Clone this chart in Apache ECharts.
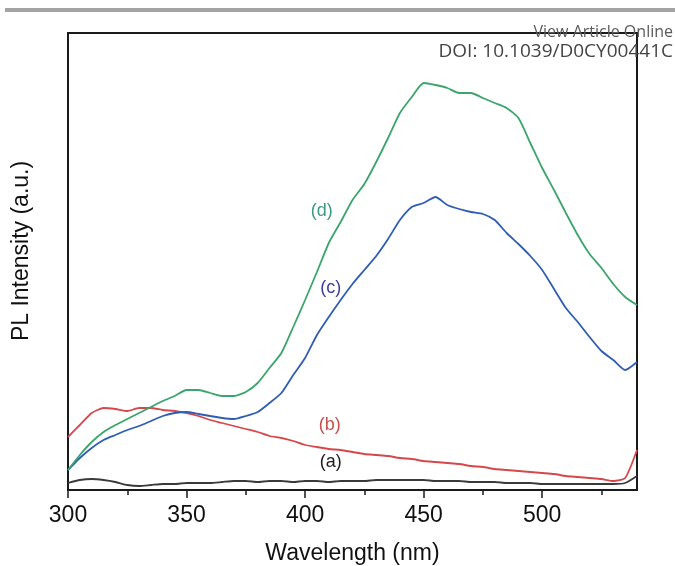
<!DOCTYPE html>
<html>
<head>
<meta charset="utf-8">
<script src="https://cdn.jsdelivr.net/npm/echarts@6/dist/echarts.min.js"></script>
<style>html,body{margin:0;padding:0;background:#fff;}#c{width:675px;height:566px;}</style>
</head>
<body>
<div id="c"></div>
<script>
// Wavelength grid (nm)
const wavelength = [300,305,310,315,320,325,330,335,340,345,350,355,360,365,370,375,380,385,390,395,400,405,410,415,420,425,430,435,440,445,450,455,460,465,470,475,480,485,490,495,500,505,510,515,520,525,530,535,540];
// PL intensity (a.u.)
const seriesA = [7,10,11,10,8,5,4,5,6,6,7,7,7,8,9,9,8,9,9,8,9,9,8,9,9,9,10,10,10,10,10,9,9,9,8,8,8,7,7,7,6,6,6,6,6,6,6,7,14];
const seriesB = [53,65,77,82,81,79,82,82,80,79,77,74,70,67,64,61,58,54,52,49,45,43,41,40,38,36,35,34,32,31,29,28,27,26,24,23,21,20,19,18,17,16,14,13,12,11,9,12,40];
const seriesC = [20,32,42,50,55,60,64,69,74,77,78,76,74,72,71,74,78,87,97,115,132,155,173,190,206,220,234,251,270,283,287,293,285,281,278,276,270,257,246,234,220,201,182,168,153,139,130,120,128];
const seriesD = [20,35,48,58,65,71,77,83,89,94,100,100,97,94,94,98,107,122,137,163,190,218,247,268,290,306,328,352,377,393,407,405,402,397,397,392,387,382,372,347,322,300,277,255,236,222,206,193,185];
const seriesNames = ['(a)','(b)','(c)','(d)'];
const labelPos = [[410.8,28],[410.4,65],[410.8,202],[407.0,279]];
const majorTicks = [300,350,400,450,500];
const minorTicks = [325,375,425,475,525];

const lineColors = ['#3a3a3a','#d6474b','#2f5db3','#3ba56b'];
const labelColors = ['#1e1e1e','#c8504f','#3d3f9c','#3b9a84'];
const allData = [seriesA, seriesB, seriesC, seriesD];
const FONT = '"Liberation Sans", Arial, sans-serif';

const series = allData.map((vals, i) => ({
  type: 'line',
  name: seriesNames[i],
  xAxisIndex: 0,
  data: wavelength.map((w, k) => [w, vals[k]]),
  showSymbol: false,
  symbol: 'none',
  smooth: 0.2,
  lineStyle: { color: lineColors[i], width: 1.8 },
  z: 2 + i,
  markPoint: {
    symbol: 'circle',
    symbolSize: 0,
    silent: true,
    animation: false,
    data: [{ coord: labelPos[i], value: seriesNames[i] }],
    label: { show: true, position: 'inside', formatter: seriesNames[i], color: labelColors[i], fontSize: 18, fontFamily: FONT }
  }
}));

const chart = echarts.init(document.getElementById('c'), null, { renderer: 'canvas' });
chart.setOption({
  animation: false,
  backgroundColor: '#ffffff',
  grid: { left: 68, right: 38, top: 33, bottom: 76, outerBoundsMode: 'none', containLabel: false, show: true, borderColor: '#1a1a1a', borderWidth: 2, backgroundColor: 'transparent' },
  xAxis: [
    {
      type: 'value', min: 300, max: 540, position: 'bottom',
      axisLine: { show: true, lineStyle: { color: '#1a1a1a', width: 2 } },
      axisTick: { show: true, inside: false, length: 8, customValues: majorTicks, lineStyle: { color: '#1a1a1a', width: 1.5 } },
      axisLabel: { show: true, customValues: majorTicks, fontSize: 23, color: '#111', margin: 14, fontFamily: FONT },
      splitLine: { show: false },
      name: 'Wavelength (nm)', nameLocation: 'middle', nameGap: 52,
      nameTextStyle: { fontSize: 23, color: '#111', fontFamily: FONT }
    },
    {
      type: 'value', min: 300, max: 540, position: 'bottom', offset: 0,
      axisLine: { show: false },
      axisTick: { show: true, inside: false, length: 5, customValues: minorTicks, lineStyle: { color: '#1a1a1a', width: 1.5 } },
      axisLabel: { show: false },
      splitLine: { show: false }
    }
  ],
  yAxis: {
    type: 'value', min: 0, max: 457,
    axisLine: { show: true, lineStyle: { color: '#1a1a1a', width: 2 } },
    axisTick: { show: false },
    axisLabel: { show: false },
    splitLine: { show: false }
  },
  graphic: [
    { type: 'rect', shape: { x: 5, y: 8, width: 670, height: 4 }, style: { fill: '#a3a3a3' }, silent: true },
    { type: 'text', x: 673, y: 32, style: { text: 'View Article Online', align: 'right', verticalAlign: 'middle', fontSize: 16, fill: '#5a5a5a', fontFamily: '"Open Sans", sans-serif' }, z: 10 },
    { type: 'text', x: 673, y: 52, style: { text: 'DOI: 10.1039/D0CY00441C', align: 'right', verticalAlign: 'middle', fontSize: 19, fill: '#444', fontFamily: '"Open Sans", sans-serif' }, z: 10 },
    { type: 'text', x: 22, y: 251, rotation: Math.PI / 2, style: { text: 'PL Intensity (a.u.)', align: 'center', verticalAlign: 'middle', fontSize: 23, fill: '#111', fontFamily: FONT } }
  ],
  series: series
});
</script>
</body>
</html>
